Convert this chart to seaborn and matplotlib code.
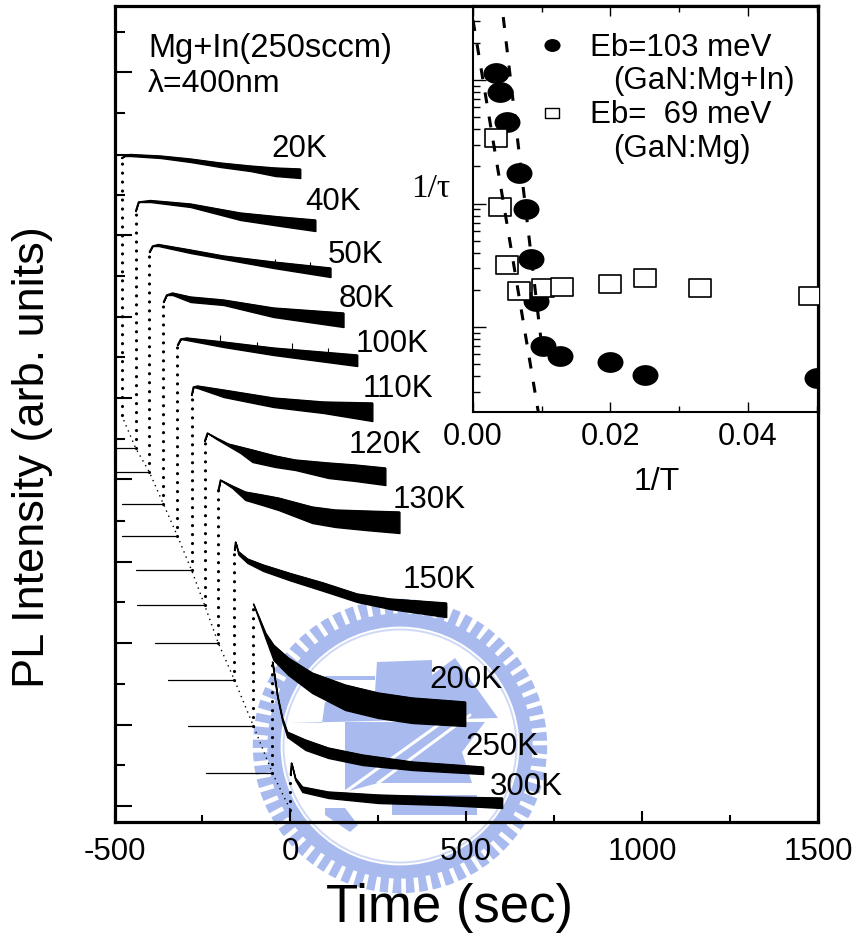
import matplotlib
matplotlib.use('Agg')
import matplotlib.pyplot as plt
import seaborn as sns
from matplotlib.path import Path
from matplotlib.patches import Circle, Polygon, Rectangle
from matplotlib.transforms import Affine2D

W, H = 856, 934

# decay traces, time in sec and intensity in arb. units (upper and lower edge of the noisy trace)
labels = ['20K', '40K', '50K', '80K', '100K', '110K', '120K', '130K', '150K', '200K', '250K', '300K']
t_20 = [-480, -472, -455, -369, -284, -199, -114, -43, 28]
top_20 = [776, 778, 779.5, 778, 775, 771, 768, 766, 765]
bot_20 = [776, 778, 778, 776, 772, 767, 763, 758, 756]
t_40 = [-440, -432, -398, -284, -142, -28, 71]
top_40 = [723, 732, 733.5, 730, 721, 717, 714]
bot_40 = [723, 732, 732, 727, 714, 708, 703]
t_50 = [-401, -392, -375, -284, -190, -48, 114]
top_50 = [682, 688, 689.5, 684, 678, 672, 666]
bot_50 = [682, 688, 688, 681, 675, 666, 657]
t_80 = [-361, -352, -335, -284, -190, -48, 151]
top_80 = [632, 639, 641, 637, 634, 626, 621]
bot_80 = [632, 639, 639, 632, 629, 617, 607]
t_100 = [-321, -312, -295, -190, -48, 190]
top_100 = [589, 595, 596, 592, 586, 579]
bot_100 = [589, 595, 594, 587, 579, 568]
t_110 = [-281, -276, -264, -190, -48, 94, 233]
top_110 = [539, 547, 548, 544, 536, 532, 531]
bot_110 = [539, 547, 546, 537, 527, 521, 513]
t_120 = [-244, -236, -210, -176, -142, -108, -43, 14, 108, 185, 270]
top_120 = [493, 501, 496, 490, 487, 484, 478, 474, 471, 469, 466]
bot_120 = [493, 501, 495, 488, 481, 472, 467, 464, 456, 453, 449]
t_130 = [-205, -199, -165, -128, -80, -34, 62, 128, 213, 310]
top_130 = [444, 454, 448, 442, 439, 436, 427, 424, 423, 422]
bot_130 = [444, 454, 446, 434, 429, 424, 411, 407, 404, 401]
t_150 = [-159, -156, -148, -122, -77, 0, 94, 190, 284, 443]
top_150 = [384, 392, 382.5, 375, 369, 360.5, 351, 340, 335, 331]
bot_150 = [384, 392, 379.5, 371, 363, 353.5, 343, 332, 325, 317]
t_200 = [-105, -71, -48, -6, 62, 156, 250, 347, 497]
top_200 = [330, 301, 289, 276, 261, 249, 241, 236, 232]
bot_200 = [330, 296, 274, 259, 241, 224, 216, 211, 208]
t_250 = [-51, -37, -23, -9, 43, 108, 205, 347, 548]
top_250 = [272, 239, 216, 202, 194, 186, 179, 172, 167]
bot_250 = [272, 237, 213, 197, 184, 176, 169, 164, 160]
t_300 = [0, 3, 14, 34, 108, 250, 440, 602]
top_300 = [159, 171, 156, 147, 142, 139, 137, 136]
bot_300 = [159, 171, 154, 142, 136, 131, 129, 126]

times = [t_20, t_40, t_50, t_80, t_100, t_110, t_120, t_130, t_150, t_200, t_250, t_300]
tops = [top_20, top_40, top_50, top_80, top_100, top_110, top_120, top_130, top_150, top_200, top_250, top_300]
bots = [bot_20, bot_40, bot_50, bot_80, bot_100, bot_110, bot_120, bot_130, bot_150, bot_200, bot_250, bot_300]

# noise spikes on the 50K and 100K traces
spike_t = [-199, -94, 6, 108, -43, 57]
spike_hi = [599, 592, 591, 586, 675, 672]
spike_lo = [590, 586, 585, 582, 670, 666]

# dark level of each trace, and where its thin baseline starts
floors = [519, 486, 462, 430, 398, 364, 329, 291, 254, 208, 161, 124]
base_start = [None, -497, -497, -480, -480, -440, -435, -386, -347, -290, -239, None]
label_t = [-54, 43, 105, 136, 185, 205, 165, 290, 318, 395, 497, 568]
label_y = [777, 724, 671, 627, 582, 537, 481, 426, 346, 246, 179, 139]
y_major = [862, 779, 699, 617, 536, 455, 372, 291, 209, 128]
y_minor = [902, 821, 739, 658, 577, 495, 413, 332, 250, 169]

# inset, Arrhenius plot
inv_t_mg_in = [0.0033, 0.004, 0.005, 0.0067, 0.0077, 0.0084, 0.0092, 0.0102, 0.0127, 0.02, 0.025, 0.05]
rate_mg_in = [0.114, 0.080, 0.0457, 0.0177, 0.0090, 0.00356, 0.00162, 0.00070, 0.00058, 0.00052, 0.00041, 0.00039]
inv_t_mg = [0.0033, 0.004, 0.005, 0.0067, 0.0102, 0.0129, 0.02, 0.025, 0.033, 0.049]
rate_mg = [0.0339, 0.00938, 0.00318, 0.00196, 0.00207, 0.00211, 0.00223, 0.00249, 0.00207, 0.00178]
fit_a_x = [0.0044, 0.0099]
fit_a_y = [0.324, 0.000785]
fit_b_x = [0.0, 0.0095]
fit_b_y = [0.306, 0.000205]

sns.set_style('white')
plt.rcParams['font.family'] = ['Liberation Sans', 'DejaVu Sans']
plt.rcParams['text.color'] = 'k'
plt.rcParams['xtick.labelcolor'] = 'k'
plt.rcParams['xtick.color'] = 'k'
plt.rcParams['ytick.color'] = 'k'


def axes_box(left, top, right, bottom):
    return [left / W, 1 - bottom / H, (right - left) / W, (bottom - top) / H]


fig = plt.figure(figsize=(W / 100, H / 100), dpi=100)

# school seal behind the plot
seal_blue = '#a8baee'
bg = fig.add_axes([0, 0, 1, 1], zorder=0)
bg.set_xlim(0, W)
bg.set_ylim(H, 0)
bg.axis('off')
bg.add_patch(Circle((400, 746), 138.5, fill=False, ec=seal_blue, lw=12.5, linestyle=(0, (0.47, 0.265))))
bg.add_patch(Circle((400, 746), 126, fill=False, ec=seal_blue, lw=9.5))
bg.add_patch(Circle((400, 746), 116.5, fill=False, ec='#cfd9f5', lw=1.4))
bg.add_patch(Polygon([(290, 723), (498, 718), (455, 658), (432, 675), (432, 660), (377, 662),
                      (375, 692), (325, 702), (322, 723)], fc=seal_blue, ec='none'))
bg.add_patch(Polygon([(345, 722), (485, 722), (462, 752), (472, 783), (378, 783), (345, 792)],
                     fc=seal_blue, ec='none'))
bg.add_patch(Rectangle((392, 795), 85, 20, fc=seal_blue, ec='none'))
bg.add_patch(Rectangle((325, 676), 50, 4, fc=seal_blue, ec='none'))
bg.add_patch(Polygon([(325, 808), (345, 808), (358, 825), (350, 832), (325, 815)], fc=seal_blue, ec='none'))
bg.plot([345, 448], [792, 718], color='white', lw=2.2)
bg.plot([378, 470], [783, 715], color='white', lw=2.2)

ax = fig.add_axes(axes_box(114.5, 6, 818, 822), zorder=1)
ax.patch.set_alpha(0)

# thin dotted line through the dark levels
edge_t = [t[0] for t in times]
ax.plot(edge_t, floors, color='k', lw=1.0, linestyle=(0, (1, 3)))

for i, label in enumerate(labels):
    t, top, bot = times[i], tops[i], bots[i]
    # dotted rise
    ax.plot([t[0], t[0]], [floors[i], top[0]], color='k', lw=2.3,
            linestyle=(0, (0.01, 2.8)), dash_capstyle='round')
    if base_start[i] is not None:
        ax.plot([base_start[i], t[0]], [floors[i], floors[i]], color='k', lw=0.9)
    ax.fill_between(t, bot, top, color='k', lw=1.0)
    sns.lineplot(x=t, y=top, ax=ax, color='k', lw=1.0, estimator=None, sort=False)
    ax.text(label_t[i], label_y[i], label, fontsize=22.5, ha='left', va='baseline', color='k')
ax.vlines(spike_t, spike_lo, spike_hi, color='k', lw=0.8)

ax.set_xlim(-499, 1500)
ax.set_ylim(112, 928)
ax.set_xticks([-500, 0, 500, 1000, 1500])
ax.set_xticklabels(['-500', '0', '500', '1000', '1500'])
ax.set_xticks([-250, 250, 750, 1250], minor=True)
ax.set_yticks(y_major)
ax.set_yticklabels([])
ax.set_yticks(y_minor, minor=True)
ax.tick_params(axis='x', which='major', direction='in', length=8, width=1.5, bottom=True, labelsize=22.5, pad=11)
ax.tick_params(axis='x', which='minor', direction='in', length=5, width=1.5, bottom=True)
ax.tick_params(axis='y', which='major', direction='in', length=12, width=1.5, left=True)
ax.tick_params(axis='y', which='minor', direction='in', length=7, width=1.5, left=True)
for spine in ax.spines.values():
    spine.set_linewidth(2.3)
    spine.set_color('k')

# inset
ins = fig.add_axes(axes_box(473, 6, 818, 412), zorder=2)
ins.set_facecolor('white')
ins.set_yscale('log')
ins.set_xlim(0, 0.0502)
ins.set_ylim(0.000205, 0.398)

ellipse = Path.unit_circle().transformed(Affine2D().scale(1, 0.8))
box = Path([(-1, -0.78), (1, -0.78), (1, 0.78), (-1, 0.78), (-1, -0.78)], closed=True)

sns.scatterplot(x=inv_t_mg_in, y=rate_mg_in, ax=ins, marker=ellipse, s=350, color='k',
                edgecolor='k', linewidth=0, zorder=3)
sns.scatterplot(x=inv_t_mg, y=rate_mg, ax=ins, marker=box, s=250, facecolor='white',
                edgecolor='k', linewidth=1.2, zorder=4)
sns.lineplot(x=fit_a_x, y=fit_a_y, ax=ins, color='k', lw=2.2, linestyle=(0, (3.6, 4.4)), zorder=5)
sns.lineplot(x=fit_b_x, y=fit_b_y, ax=ins, color='k', lw=2.2, linestyle=(0, (3.6, 4.4)), zorder=5)
# legend keys
sns.scatterplot(x=[0.0115], y=[0.192], ax=ins, marker=ellipse, s=135, color='k',
                edgecolor='k', linewidth=0, zorder=3)
sns.scatterplot(x=[0.0115], y=[0.0541], ax=ins, marker=box, s=88, facecolor='white',
                edgecolor='k', linewidth=1.0, zorder=3)

ins.set_xticks([0, 0.02, 0.04])
ins.set_xticklabels(['0.00', '0.02', '0.04'])
ins.set_xticks([0.01, 0.03, 0.05], minor=True)
ins.set_yticklabels([], minor=True)
ins.set_yticklabels([])
ins.tick_params(axis='x', which='major', direction='in', length=7.5, width=1, top=True, bottom=True, labelsize=22, pad=7)
ins.tick_params(axis='x', which='minor', direction='in', length=4.5, width=1, top=True, bottom=True)
ins.tick_params(axis='y', which='major', direction='in', length=9, width=1, left=True)
ins.tick_params(axis='y', which='minor', direction='in', length=5, width=1, left=True)
for name, spine in ins.spines.items():
    spine.set_color('k')
    spine.set_linewidth(2.3 if name in ('top', 'right') else 1.5)


def px_text(x, y, s, **kw):
    return fig.text(x / W, 1 - y / H, s, va='baseline', color='k', **kw)


px_text(148, 57, 'Mg+In(250sccm)', fontsize=23.5, ha='left')
px_text(148, 92, 'λ=400nm', fontsize=23, ha='left')
px_text(590, 56, 'Eb=103 meV', fontsize=22.5, ha='left')
px_text(613, 89, '(GaN:Mg+In)', fontsize=22.5, ha='left')
px_text(590, 123, 'Eb=  69 meV', fontsize=22.5, ha='left')
px_text(613, 157, '(GaN:Mg)', fontsize=22.5, ha='left')
px_text(657, 490, '1/T', fontsize=23, ha='center')
px_text(411, 197, '1/τ', fontsize=24, ha='left', family=['Liberation Serif', 'DejaVu Serif'])
px_text(450, 922, 'Time (sec)', fontsize=38, ha='center')
fig.text(33 / W, 1 - 457 / H, 'PL Intensity (arb. units)', fontsize=32.5, rotation=90,
         ha='center', va='center', color='k')

fig.savefig('out.png', dpi=100)
